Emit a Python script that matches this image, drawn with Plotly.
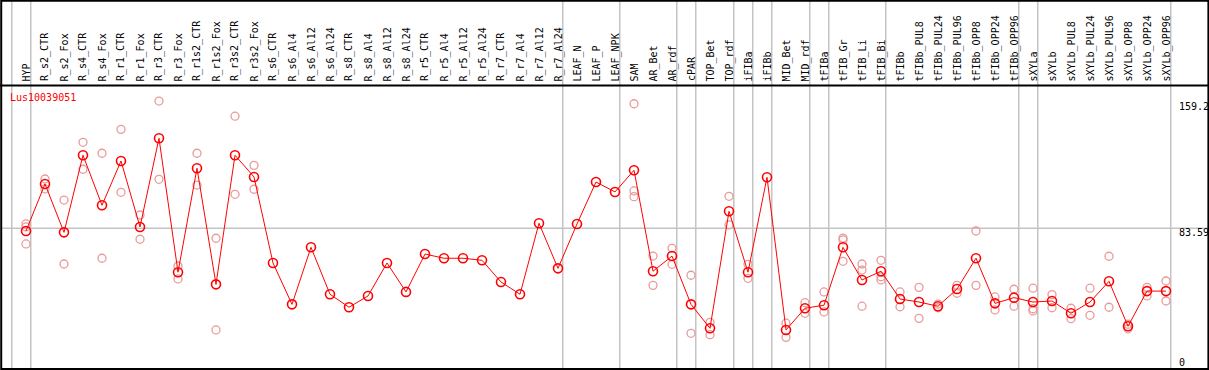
import plotly.graph_objects as go

title = "Lus10039051"

categories = [
    "HYP", "R_s2_CTR", "R_s2_Fox", "R_s4_CTR", "R_s4_Fox", "R_r1_CTR", "R_r1_Fox",
    "R_r3_CTR", "R_r3_Fox", "R_r1s2_CTR", "R_r1s2_Fox", "R_r3s2_CTR", "R_r3s2_Fox",
    "R_s6_CTR", "R_s6_Al4", "R_s6_Al12", "R_s6_Al24", "R_s8_CTR", "R_s8_Al4",
    "R_s8_Al12", "R_s8_Al24", "R_r5_CTR", "R_r5_Al4", "R_r5_Al12", "R_r5_Al24",
    "R_r7_CTR", "R_r7_Al4", "R_r7_Al12", "R_r7_Al24", "LEAF_N", "LEAF_P", "LEAF_NPK",
    "SAM", "AR_Bet", "AR_rdf", "cPAR", "TOP_Bet", "TOP_rdf", "iFIBa", "iFIBb",
    "MID_Bet", "MID_rdf", "tFIBa", "tFIB_Gr", "tFIB_Li", "tFIB_Bi", "tFIBb",
    "tFIBb_PUL8", "tFIBb_PUL24", "tFIBb_PUL96", "tFIBb_OPP8", "tFIBb_OPP24", "tFIBb_OPP96",
    "sXYLa", "sXYLb", "sXYLb_PUL8", "sXYLb_PUL24", "sXYLb_PUL96", "sXYLb_OPP8",
    "sXYLb_OPP24", "sXYLb_OPP96",
]

means = [
    82.0, 109.9, 81.2, 127.0, 97.3, 123.6, 84.4,
    137.1, 57.5, 119.3, 50.3, 127.0, 114.1,
    63.0, 38.4, 72.3, 44.4, 36.7, 43.4,
    63.0, 45.8, 68.3, 65.8, 65.8, 64.6,
    51.7, 44.4, 86.6, 59.8, 86.2, 111.1, 105.2,
    118.1, 58.1, 67.1, 38.4, 24.2, 93.7, 57.5, 113.9,
    23.2, 36.1, 37.9, 72.3, 52.9, 58.1, 41.6,
    39.8, 37.3, 47.5, 65.8, 39.0, 42.4,
    39.8, 40.4, 33.1, 39.8, 52.1, 25.4,
    46.3, 46.3,
]

replicates = [
    [86.2, 84.4, 74.3], [112.9, 107.0], [100.4, 62.4], [134.7, 118.7], [128.2, 65.8],
    [142.4, 105.0], [91.5, 77.1], [159.2, 112.7], [61.2, 53.5], [128.2, 109.3],
    [77.7, 23.2], [150.2, 103.8], [121.0, 106.8],
    [], [], [], [], [], [], [], [], [], [], [], [], [], [], [], [],
    [], [], [],
    [157.6, 105.8, 102.4], [67.1, 49.7], [71.7, 62.2], [55.7, 21.2], [27.7, 20.4],
    [102.6, 85.6], [62.2, 53.9], [],
    [27.2, 18.8], [39.4, 33.1], [45.8, 33.9], [77.8, 76.7, 64.0], [62.4, 58.8, 37.3],
    [64.6, 54.8, 52.9], [45.8, 37.0],
    [48.5, 30.1], [38.6, 36.4], [49.7, 45.0], [82.0, 49.7], [42.8, 35.1], [47.4, 37.3],
    [48.0, 35.8, 34.5], [44.2, 36.4], [36.1, 29.9], [48.0, 31.9], [67.0, 36.7],
    [26.6, 23.9], [48.5, 43.4], [52.3, 40.4],
]

# last category of each group (a grey separator is drawn just after it)
group_ends = ["HYP", "R_r7_Al24", "LEAF_NPK", "AR_rdf", "cPAR", "TOP_rdf", "iFIBa",
              "iFIBb", "MID_rdf", "tFIBa", "tFIB_Bi", "tFIBb_OPP96", "sXYLa", "sXYLb_OPP96"]

axis_labels = ["159.2", "83.59", "0"]
ref_value = 83.59

W, H = 1209, 370
FONT = "DejaVu Sans Mono"

x_idx = list(range(len(categories)))
rep_x, rep_y = [], []
for i, reps in enumerate(replicates):
    for v in reps:
        rep_x.append(i)
        rep_y.append(v)

fig = go.Figure()
fig.add_trace(go.Scatter(
    x=rep_x, y=rep_y, mode="markers", hoverinfo="skip",
    marker=dict(symbol="circle-open", size=8, color="#ea9a9a", line=dict(width=1.3)),
))
fig.add_trace(go.Scatter(
    x=x_idx, y=means, mode="lines+markers",
    line=dict(color="#ff0000", width=1),
    marker=dict(symbol="circle-open", size=9, color="#ff0000", line=dict(width=1.6)),
))

# pixel geometry helpers
x0_px, dx_px = 26.0, 19.0
xr = [-x0_px / dx_px, (W - x0_px) / dx_px]
px_per_unit = 1.683
y_zero_px = 369.0
yr = [-(H - y_zero_px) / px_per_unit, y_zero_px / px_per_unit]

shapes = []
sep_color = "#c4c4c4"
for name in ["__start__"] + group_ends:
    i = -1 if name == "__start__" else categories.index(name)
    shapes.append(dict(type="line", xref="x", yref="paper", x0=i + 0.25, x1=i + 0.25,
                       y0=0, y1=1, line=dict(color=sep_color, width=1.5), layer="below"))
shapes.append(dict(type="line", xref="paper", yref="y", x0=0, x1=1, y0=ref_value, y1=ref_value,
                   line=dict(color=sep_color, width=1.5), layer="below"))
header_y = 1 - 85.5 / H
shapes.append(dict(type="line", xref="paper", yref="paper", x0=0, x1=1, y0=header_y, y1=header_y,
                   line=dict(color="black", width=2)))
shapes.append(dict(type="rect", xref="paper", yref="paper", x0=0.001, x1=0.9995, y0=0.003, y1=0.998,
                   line=dict(color="black", width=2)))

annotations = []
for i, c in enumerate(categories):
    annotations.append(dict(x=i, xref="x", y=1 - 83.5 / H, yref="paper", text=c, showarrow=False,
                            textangle=-90, xanchor="center", yanchor="bottom",
                            font=dict(family=FONT, size=10, color="black")))
annotations.append(dict(x=8 / W, xref="paper", y=1 - 97.5 / H, yref="paper", text=title,
                        showarrow=False, xanchor="left", yanchor="middle",
                        font=dict(family=FONT, size=10, color="#ff0000")))
label_px = [106.8, 232.0, 362.0]
for t, py in zip(axis_labels, label_px):
    annotations.append(dict(x=1177 / W, xref="paper", y=1 - py / H, yref="paper", text=t,
                            showarrow=False, xanchor="left", yanchor="middle",
                            font=dict(family=FONT, size=10, color="black")))

fig.update_layout(
    width=W, height=H, autosize=False,
    margin=dict(l=0, r=0, t=0, b=0, pad=0),
    paper_bgcolor="white", plot_bgcolor="white",
    showlegend=False,
    xaxis=dict(range=xr, visible=False, showgrid=False, zeroline=False, fixedrange=True),
    yaxis=dict(range=yr, visible=False, showgrid=False, zeroline=False, fixedrange=True),
    shapes=shapes, annotations=annotations,
)

fig.write_html("out.html",
               config={"displayModeBar": False, "staticPlot": True},
               post_script="document.body.style.margin='0';document.body.style.overflow='hidden';")
